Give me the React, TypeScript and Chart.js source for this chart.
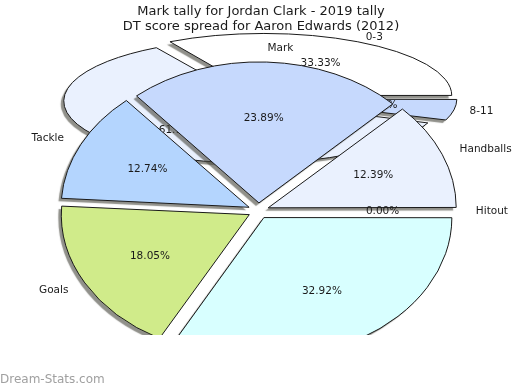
import React, { useEffect, useRef } from 'react';
import { Chart, registerables } from 'chart.js';

Chart.register(...registerables);

const titleLines = ['Mark tally for Jordan Clark - 2019 tally', 'DT score spread for Aaron Edwards (2012)'];
const watermark = 'Dream-Stats.com';

// front pie (clockwise from 3 o'clock)
const frontLabels = ['Kicks', 'Goals', 'Tackle', 'Mark', 'Handballs', 'Hitout'];
const frontValues = [32.92, 18.05, 12.74, 23.89, 12.39, 0];
const frontColors = ['#D8FFFF', '#D0EB8A', '#B4D5FE', '#C6D9FD', '#EAF1FE', '#FFFFFF'];

// back pie (clockwise from 3 o'clock)
const backLabels = ['8-11', '4-7', '0-3'];
const backValues = [5.56, 61.11, 33.33];
const backColors = ['#C6D9FD', '#EAF1FE', '#FFFFFF'];

const FONT = '"DejaVu Sans", sans-serif';
const EXPLODE = 10.5;
const TEXT = '#1a1a1a';

function makePlugin(k: number, labels: string[], values: number[], nameR: number, pctR: number, extra?: (chart: any) => void) {
  return {
    id: 'ellipsePie',
    beforeDatasetsDraw(chart: any) {
      const ctx = chart.ctx as CanvasRenderingContext2D;
      const a = chart.chartArea;
      const cx = (a.left + a.right) / 2;
      const cy = (a.top + a.bottom) / 2;
      const meta = chart.getDatasetMeta(0);
      const base = meta.controller.outerRadius;
      meta.data.forEach((arc: any) => {
        const c = arc.circumference || 0;
        const fix = 1 - Math.sin(Math.min(Math.PI, c));
        arc.outerRadius = base - EXPLODE * fix;
      });
      ctx.save();
      ctx.translate(cx, cy);
      ctx.scale(1, k);
      ctx.translate(-cx, -cy);
      ctx.shadowColor = 'rgba(70,70,60,0.6)';
      ctx.shadowOffsetX = -3;
      ctx.shadowOffsetY = 3;
      ctx.shadowBlur = 1;
      const nativeStroke = CanvasRenderingContext2D.prototype.stroke;
      (ctx as any).stroke = function (...args: any[]) {
        this.save();
        this.setTransform(1, 0, 0, 1, 0, 0);
        this.shadowColor = 'rgba(0,0,0,0)';
        nativeStroke.apply(this, args as any);
        this.restore();
      };
    },
    afterDatasetsDraw(chart: any) {
      const ctx = chart.ctx as CanvasRenderingContext2D;
      delete (ctx as any).stroke;
      ctx.restore();
      const meta = chart.getDatasetMeta(0);
      const base = meta.controller.outerRadius;
      const total = values.reduce((s, v) => s + v, 0);
      ctx.save();
      ctx.fillStyle = TEXT;
      ctx.font = `10.5px ${FONT}`;
      ctx.textBaseline = 'middle';
      meta.data.forEach((arc: any, i: number) => {
        const mid = (arc.startAngle + arc.endAngle) / 2;
        const c = Math.cos(mid);
        const s = Math.sin(mid);
        const pct = ((values[i] / total) * 100).toFixed(2) + '%';
        ctx.textAlign = 'center';
        ctx.fillText(pct, arc.x + c * base * pctR, arc.y + k * s * base * pctR);
        ctx.textAlign = c >= -1e-6 ? 'left' : 'right';
        ctx.fillText(labels[i], arc.x + c * base * nameR, arc.y + k * s * base * nameR);
      });
      ctx.restore();
      if (extra) extra(chart);
    },
  };
}

function drawTexts(chart: any) {
  const ctx = chart.ctx as CanvasRenderingContext2D;
  ctx.save();
  ctx.fillStyle = TEXT;
  ctx.font = `13px ${FONT}`;
  ctx.textAlign = 'center';
  ctx.textBaseline = 'alphabetic';
  ctx.fillText(titleLines[0], 261, 15);
  ctx.fillText(titleLines[1], 261, 30);
  ctx.fillStyle = '#a0a0a0';
  ctx.font = `12px ${FONT}`;
  ctx.textAlign = 'left';
  ctx.textBaseline = 'middle';
  ctx.fillText(watermark, 0, 380);
  ctx.restore();
}

function pieConfig(labels: string[], values: number[], colors: string[], padding: any, plugin: any) {
  return {
    type: 'pie' as const,
    data: {
      labels,
      datasets: [
        {
          data: values,
          backgroundColor: colors,
          borderColor: TEXT,
          borderWidth: 1,
          offset: EXPLODE * 4,
        },
      ],
    },
    options: {
      responsive: false,
      animation: false as const,
      devicePixelRatio: 1,
      events: [] as any[],
      rotation: 90,
      radius: 188,
      layout: { padding },
      plugins: {
        legend: { display: false },
        tooltip: { enabled: false },
        title: { display: false },
      },
    },
    plugins: [plugin],
  };
}

export default function App() {
  const backRef = useRef<HTMLCanvasElement>(null);
  const frontRef = useRef<HTMLCanvasElement>(null);

  useEffect(() => {
    document.body.style.margin = '0';
    const back = new Chart(
      backRef.current as HTMLCanvasElement,
      pieConfig(backLabels, backValues, backColors, { left: 0, right: 3, top: 0, bottom: 193 },
        makePlugin(0.33, backLabels, backValues, 1.14, 0.66, drawTexts)) as any
    );
    const front = new Chart(
      frontRef.current as HTMLCanvasElement,
      pieConfig(frontLabels, frontValues, frontColors, { left: 0, right: 3, top: 86.6, bottom: 0 },
        makePlugin(0.75, frontLabels, frontValues, 1.156, 0.66)) as any
    );
    return () => {
      back.destroy();
      front.destroy();
    };
  }, []);

  return (
    <div style={{ position: 'relative', width: 520, height: 390, background: '#fff' }}>
      <canvas ref={backRef} width={520} height={390} style={{ position: 'absolute', left: 0, top: 0 }} />
      <canvas ref={frontRef} width={520} height={335} style={{ position: 'absolute', left: 0, top: 0 }} />
    </div>
  );
}
